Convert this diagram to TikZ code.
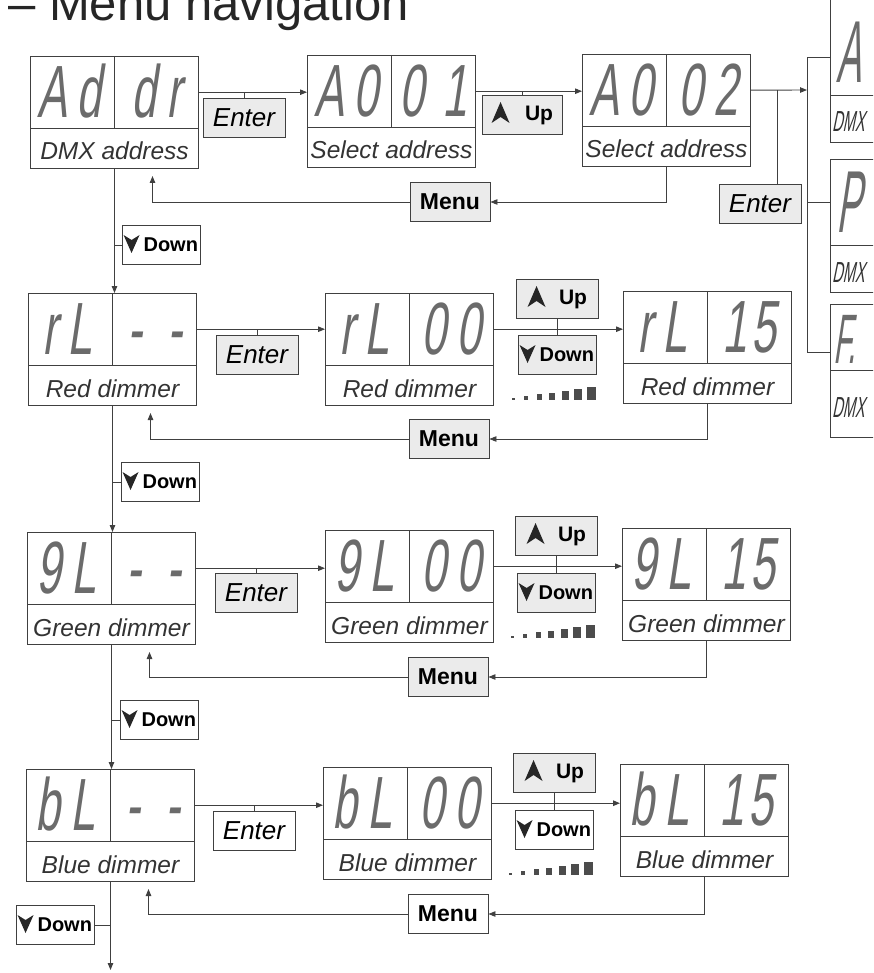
\documentclass[tikz,border=0pt]{standalone}
\usepackage{fontspec}
\setmainfont{Liberation Sans}
\newfontfamily\segfont[FakeStretch=0.6,FakeSlant=0.15]{Liberation Sans}
\newfontfamily\segnarrow[FakeStretch=0.42,FakeSlant=0.15]{Liberation Sans}
\newfontfamily\narrowit[FakeStretch=0.5,FakeSlant=0.2]{Liberation Sans}
\usetikzlibrary{arrows.meta,positioning,calc}

% two digits of one half of a display
\newcommand{\segpair}[3][10pt]{#2\kern#1#3}
% display: name, left, top, left digits, right digits, label
\newcommand{\lcd}[6]{%
  \node[lcdbox, anchor=north west] (#1) at (#2,#3) {};
  \node[lcdtop, anchor=north] (#1-top) at (#1.north) {};
  \draw[lcdline] (#1-top.south west) -- (#1-top.south east)
                 (#1-top.north) -- (#1-top.south);
  \node[segtxt, anchor=base] (#1-l) at ($(#1-top.south west)!.25!(#1-top.south east)+(-3,-11)$) {#4};
  \node[segtxt, anchor=base] (#1-r) at ($(#1-top.south west)!.75!(#1-top.south east)+(0,-11)$) {#5};
  \node[lbl, anchor=base] (#1-lbl) at ($(#1.south)+(0,-9)$) {#6};
}

\begin{document}
\begin{tikzpicture}[x=1pt, y=-1pt,
    link/.style={draw=black!75, line width=0.9pt},
    arr/.style={link, -{Triangle[length=7pt,width=5.5pt]}},
    lcdbox/.style={draw=black!75, line width=1pt, minimum width=168pt,
                   minimum height=112pt, inner sep=0pt},
    lcdtop/.style={minimum width=168pt, minimum height=72pt, inner sep=0pt},
    lcdline/.style={draw=black!75, line width=0.8pt},
    segtxt/.style={font=\segfont\fontsize{74}{74}\selectfont, text=black!58, inner sep=0pt},
    segbig/.style={font=\segnarrow\fontsize{88}{88}\selectfont, text=black!58, inner sep=0pt},
    lbl/.style={font=\itshape\fontsize{24.5}{26}\selectfont, text=black!80, inner sep=0pt},
    dmx/.style={font=\narrowit\fontsize{29}{31}\selectfont, text=black!80, inner sep=0pt},
    btn/.style={draw=black!75, line width=0.9pt, fill=black!8, minimum height=39pt,
                inner sep=0pt},
    enterkey/.style={btn, minimum width=82pt, font=\itshape\fontsize{26}{28}\selectfont},
    menukey/.style={btn, minimum width=80pt, font=\bfseries\fontsize{23}{25}\selectfont},
    upkey/.style={btn, text width=62pt, align=right, inner xsep=9pt,
                  font=\bfseries\fontsize{21}{23}\selectfont},
    downkey/.style={btn, text width=74pt, align=right, inner xsep=2pt,
                    font=\bfseries\fontsize{20}{22}\selectfont},
    uptip/.pic={\fill[black!85] (0,-11) -- (9,10) -- (0,4) -- (-9,10) -- cycle;},
    downtip/.pic={\fill[black!85] (0,9) -- (8,-9) -- (0,-4) -- (-8,-9) -- cycle;},
  ]
  \useasboundingbox (0,0) rectangle (873,973);
  \clip (0,0) rectangle (873,973);

  \node[anchor=base west, font=\fontsize{49}{50}\selectfont, text=black!85, inner sep=0pt]
    (title) at (8,21) {– Menu navigation};

  % displays
  \lcd{addr}{30}{56}{\segpair{A}{d}}{\segpair{d}{r}}{DMX address}
  \lcd{a001}{307}{55}{\segpair{A}{0}}{\segpair[18pt]{0}{1}}{Select address}
  \lcd{a002}{582}{54}{\segpair{A}{0}}{\segpair{0}{2}}{Select address}
  \lcd{rl}{28}{293}{\segpair{r}{L}}{\segpair[25pt]{-}{-}}{Red dimmer}
  \lcd{rl00}{325}{293}{\segpair{r}{L}}{\segpair{0}{0}}{Red dimmer}
  \lcd{rl15}{623}{291}{\segpair{r}{L}}{\segpair[4pt]{1}{5}}{Red dimmer}
  \lcd{gl}{27}{532}{\segpair{9}{L}}{\segpair[25pt]{-}{-}}{Green dimmer}
  \lcd{gl00}{325}{530}{\segpair{9}{L}}{\segpair{0}{0}}{Green dimmer}
  \lcd{gl15}{622}{528}{\segpair{9}{L}}{\segpair[4pt]{1}{5}}{Green dimmer}
  \lcd{bl}{26}{769}{\segpair{b}{L}}{\segpair[25pt]{-}{-}}{Blue dimmer}
  \lcd{bl00}{323}{767}{\segpair{b}{L}}{\segpair{0}{0}}{Blue dimmer}
  \lcd{bl15}{620}{764}{\segpair{b}{L}}{\segpair[4pt]{1}{5}}{Blue dimmer}

  % displays cut off at the right edge
  \node[lcdbox, minimum width=100pt, minimum height=145pt, anchor=north west] (boxA) at (830,-3) {};
  \node[lcdtop, minimum width=100pt, minimum height=98pt, anchor=north] (boxA-top) at (boxA.north) {};
  \draw[lcdline] (boxA-top.south west) -- (boxA-top.south east);
  \node[segbig, anchor=base] (boxA-d) at (849,83) {A};
  \node[dmx, anchor=base west] (boxA-lbl) at (832,132) {DMX};

  \node[lcdbox, minimum width=100pt, minimum height=133pt, anchor=north west] (boxP) at (830,159) {};
  \node[lcdtop, minimum width=100pt, minimum height=86pt, anchor=north] (boxP-top) at (boxP.north) {};
  \draw[lcdline] (boxP-top.south west) -- (boxP-top.south east);
  \node[segbig, anchor=base] (boxP-d) at (849,233) {P};
  \node[dmx, anchor=base west] (boxP-lbl) at (832,283) {DMX};

  \node[lcdbox, minimum width=100pt, minimum height=133pt, anchor=north west] (boxF) at (830,304) {};
  \node[lcdtop, minimum width=100pt, minimum height=66pt, anchor=north] (boxF-top) at (boxF.north) {};
  \draw[lcdline] (boxF-top.south west) -- (boxF-top.south east);
  \node[segbig, font=\segnarrow\fontsize{70}{70}\selectfont, anchor=base west] (boxF-d) at (833,363) {F.};
  \node[dmx, anchor=base west] (boxF-lbl) at (832,417) {DMX};

  % keys
  \node[enterkey] (enter1) at (244,118) {Enter};
  \node[upkey] (up1) at (522,115) {Up};
  \node[enterkey] (enterR) at (760,204) {Enter};
  \node[menukey] (menu1) at (450,202) {Menu};
  \node[downkey, fill=none] (dn1) at (161,245) {Down};

  \node[enterkey] (enter2) at (257,355) {Enter};
  \node[upkey, text width=60pt, inner xsep=11pt] (up2) at (557,299) {Up};
  \node[downkey] (down2) at (557,355) {Down};
  \node[menukey] (menu2) at (449,439) {Menu};
  \node[downkey, fill=none] (dn2) at (160,482) {Down};

  \node[enterkey] (enter3) at (256,593) {Enter};
  \node[upkey, text width=60pt, inner xsep=11pt] (up3) at (556,536) {Up};
  \node[downkey] (down3) at (556,593) {Down};
  \node[menukey] (menu3) at (448,677) {Menu};
  \node[downkey, fill=none] (dn3) at (159,720) {Down};

  \node[enterkey, fill=none] (enter4) at (254,831) {Enter};
  \node[upkey, text width=60pt, inner xsep=11pt] (up4) at (554,773) {Up};
  \node[downkey, fill=none] (down4r) at (554,830) {Down};
  \node[menukey, fill=none] (menu4) at (448,914) {Menu};
  \node[downkey, fill=none] (dn4) at (55,925) {Down};

  \pic at ($(up1.west)+(19,-2)$) {uptip};
  \foreach \k in {up2,up3,up4}
    \pic at ($(\k.west)+(21,-2)$) {uptip};
  \foreach \k in {dn1,dn2,dn3,dn4,down2,down3,down4r}
    \pic at ($(\k.west)+(10,-1)$) {downtip};

  % brightness ramps under the Down keys
  \foreach \k in {down2,down3,down4r}
    \foreach \i in {0,...,6}
      \fill[black!70] ($(\k.south)+({-45.5+13*\i-0.5*\i},25)$) rectangle ++({3+\i},{-2-1.8*\i});

  % row 1
  \draw[arr] (addr-top.east) -- (addr-top.east -| a001.west);
  \draw[link] (enter1.north) -- (enter1.north |- addr-top.east);
  \draw[arr] (a001-top.east) -- (a001-top.east -| a002.west);
  \draw[link] (up1.north) -- (up1.north |- a001-top.east);
  \coordinate (fork) at (807,90);
  \coordinate (forktop) at (807,57);
  \coordinate (forkbot) at (807,352);
  \draw[arr] (a002-top.east) -- (fork);
  \draw[link] (boxA.west |- forktop) -- (forktop) -- (forkbot) -- (boxF.west |- forkbot);
  \draw[link] (boxP-top.west) -- (boxP-top.west -| fork);
  \draw[link] ([xshift=17pt]enterR.north) -- ([xshift=17pt]enterR.north |- a002-top.east);
  \draw[arr] (a002.south) |- (menu1.east);
  \draw[arr, shorten >=7pt] (menu1.west) -| ($(addr.south)+(38,0)$);
  \draw[arr] (addr.south) -- (addr.south |- rl.north);
  \draw[link] (dn1.west) -- (dn1.west -| addr.south);

  % row 2
  \draw[arr] (rl-top.east) -- (rl-top.east -| rl00.west);
  \draw[link] (enter2.north) -- (enter2.north |- rl-top.east);
  \draw[arr] (rl00-top.east) -- (rl00-top.east -| rl15.west);
  \draw[link] (up2.south) -- (down2.north);
  \draw[arr] (rl15.south) |- (menu2.east);
  \draw[arr, shorten >=7pt] (menu2.west) -| ($(rl.south)+(38,0)$);
  \draw[arr] (rl.south) -- (rl.south |- gl.north);
  \draw[link] (dn2.west) -- (dn2.west -| rl.south);

  % row 3
  \draw[arr] (gl-top.east) -- (gl-top.east -| gl00.west);
  \draw[link] (enter3.north) -- (enter3.north |- gl-top.east);
  \draw[arr] (gl00-top.east) -- (gl00-top.east -| gl15.west);
  \draw[link] (up3.south) -- (down3.north);
  \draw[arr] (gl15.south) |- (menu3.east);
  \draw[arr, shorten >=7pt] (menu3.west) -| ($(gl.south)+(38,0)$);
  \draw[arr] (gl.south) -- (gl.south |- bl.north);
  \draw[link] (dn3.west) -- (dn3.west -| gl.south);

  % row 4
  \draw[arr] (bl-top.east) -- (bl-top.east -| bl00.west);
  \draw[link] (enter4.north) -- (enter4.north |- bl-top.east);
  \draw[arr, line width=1.3pt] (bl00-top.east) -- (bl00-top.east -| bl15.west);
  \draw[link] (up4.south) -- (down4r.north);
  \draw[arr] (bl15.south) |- (menu4.east);
  \draw[arr, shorten >=7pt] (menu4.west) -| ($(bl.south)+(38,0)$);
  \coordinate (bottomend) at (0,970);
  \draw[arr] (bl.south) -- (bl.south |- bottomend);
  \draw[link] (dn4.east) -- (dn4.east -| bl.south);
\end{tikzpicture}
\end{document}
